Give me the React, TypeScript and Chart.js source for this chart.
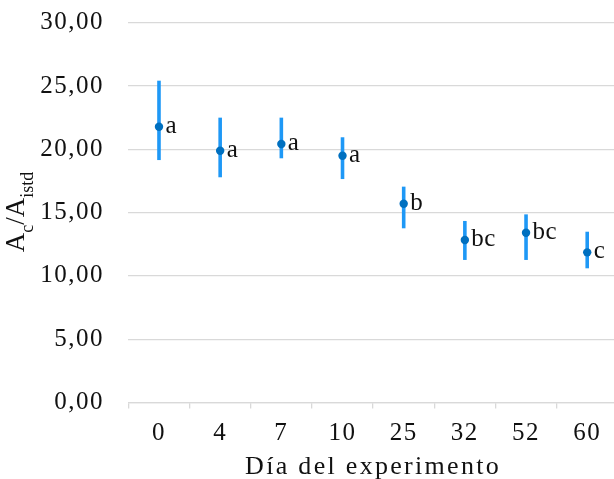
import { useEffect, useRef } from 'react';
import { Chart, registerables } from 'chart.js';

Chart.register(...registerables);

const categories = ['0', '4', '7', '10', '25', '32', '52', '60'];
const means = [21.78, 19.89, 20.42, 19.49, 15.7, 12.84, 13.41, 11.86];
const errUpper = [25.42, 22.5, 22.5, 20.95, 17.05, 14.34, 14.86, 13.49];
const errLower = [19.15, 17.79, 19.29, 17.65, 13.76, 11.26, 11.26, 10.6];
const groupLetters = ['a', 'a', 'a', 'a', 'b', 'bc', 'bc', 'c'];
const yMin = 0;
const yMax = 30;
const yStep = 5;
const xTitle = 'Día del experimento';

const FONT = "'Liberation Serif', 'Times New Roman', serif";
const POINT_COLOR = '#0070C0';
const BAR_COLOR = '#1E98F6';
const GRID = '#d9d9d9';
const TEXT = '#111111';

export default function App() {
  const ref = useRef<HTMLCanvasElement>(null);

  useEffect(() => {
    document.documentElement.style.overflow = 'hidden';
    document.body.style.margin = '0';
    document.body.style.overflow = 'hidden';
    if (!ref.current) return;

    const spacing = {
      id: 'spacing',
      beforeDraw(chart: any) {
        chart.ctx.letterSpacing = '1.5px';
      },
      afterLayout(chart: any) {
        const s = chart.scales.x;
        if (s && !s.__patched) {
          const orig = s.drawTitle.bind(s);
          s.drawTitle = function () {
            const c = chart.ctx;
            const prev = c.letterSpacing;
            c.letterSpacing = '2.3px';
            orig();
            c.letterSpacing = prev;
          };
          s.__patched = true;
        }
      },
    };

    const errorBars = {
      id: 'errorBars',
      beforeDatasetsDraw(chart: any) {
        const { ctx, scales } = chart;
        const x = scales.x;
        const y = scales.y;
        ctx.save();
        ctx.strokeStyle = BAR_COLOR;
        ctx.lineWidth = 3.6;
        ctx.lineCap = 'butt';
        categories.forEach((_, i) => {
          const px = x.getPixelForValue(i);
          ctx.beginPath();
          ctx.moveTo(px, y.getPixelForValue(errUpper[i]));
          ctx.lineTo(px, y.getPixelForValue(errLower[i]));
          ctx.stroke();
        });
        ctx.restore();
      },
    };

    const letters = {
      id: 'letters',
      afterDatasetsDraw(chart: any) {
        const { ctx, scales } = chart;
        const x = scales.x;
        const y = scales.y;
        ctx.save();
        ctx.letterSpacing = '0.5px';
        ctx.fillStyle = TEXT;
        ctx.font = `25px ${FONT}`;
        ctx.textAlign = 'left';
        ctx.textBaseline = 'alphabetic';
        groupLetters.forEach((t, i) => {
          const px = x.getPixelForValue(i);
          const py = y.getPixelForValue(means[i]);
          ctx.fillText(t, px + 6.5, py + 6);
        });
        ctx.restore();
      },
    };

    const yTitle = {
      id: 'yTitle',
      afterDraw(chart: any) {
        const { ctx } = chart;
        const parts: [string, boolean][] = [
          ['A', false],
          ['c', true],
          ['/', false],
          ['A', false],
          ['istd', true],
        ];
        const mainFont = `27px ${FONT}`;
        const subFont = `18px ${FONT}`;
        ctx.save();
        ctx.letterSpacing = '0px';
        let total = 0;
        parts.forEach(([t, sub]) => {
          ctx.font = sub ? subFont : mainFont;
          total += ctx.measureText(t).width;
        });
        ctx.translate(23.5, 212 + total / 2);
        ctx.rotate(-Math.PI / 2);
        ctx.fillStyle = TEXT;
        ctx.textBaseline = 'alphabetic';
        ctx.textAlign = 'left';
        let cx = 0;
        parts.forEach(([t, sub]) => {
          ctx.font = sub ? subFont : mainFont;
          ctx.fillText(t, cx, sub ? 9 : 0);
          cx += ctx.measureText(t).width;
        });
        ctx.restore();
      },
    };

    const chart = new Chart(ref.current, {
      type: 'line',
      data: {
        labels: categories,
        datasets: [
          {
            data: means,
            showLine: false,
            pointRadius: 4.2,
            pointHoverRadius: 4.2,
            pointBackgroundColor: POINT_COLOR,
            pointBorderColor: POINT_COLOR,
            pointBorderWidth: 0,
            borderColor: POINT_COLOR,
          },
        ],
      },
      options: {
        responsive: false,
        animation: false,
        events: [],
        layout: { padding: { top: 22.7, right: 4, left: 0, bottom: 0 } },
        plugins: {
          legend: { display: false },
          tooltip: { enabled: false },
          title: { display: false },
        },
        scales: {
          x: {
            type: 'category',
            offset: true,
            afterFit(scale: any) {
              scale.height = 76.5;
            },
            grid: {
              offset: true,
              drawOnChartArea: false,
              drawTicks: true,
              tickLength: 6,
              color: GRID,
              lineWidth: 1.3,
            },
            border: { display: true, color: GRID, width: 1.3 },
            ticks: {
              color: TEXT,
              font: { family: FONT, size: 25 },
              padding: 10,
              maxRotation: 0,
              autoSkip: false,
            },
            title: {
              display: true,
              text: xTitle,
              color: TEXT,
              font: { family: FONT, size: 26, lineHeight: 0.92 },
              padding: { top: 0, bottom: 0 },
            },
          },
          y: {
            min: yMin,
            max: yMax,
            afterFit(scale: any) {
              scale.width = 128.4;
              scale.paddingTop = 0;
              scale.paddingBottom = 0;
            },
            grid: {
              color: GRID,
              lineWidth: 1.3,
              drawTicks: false,
            },
            border: { display: false },
            ticks: {
              stepSize: yStep,
              color: TEXT,
              font: { family: FONT, size: 25 },
              padding: 24.5,
              callback: (v: any) => Number(v).toFixed(2).replace('.', ','),
            },
          },
        },
      },
      plugins: [spacing, errorBars, letters, yTitle],
    });

    return () => chart.destroy();
  }, []);

  return (
    <div style={{ position: 'absolute', left: 0, top: 0, width: 622, height: 479 }}>
      <canvas ref={ref} width={622} height={479} />
    </div>
  );
}
